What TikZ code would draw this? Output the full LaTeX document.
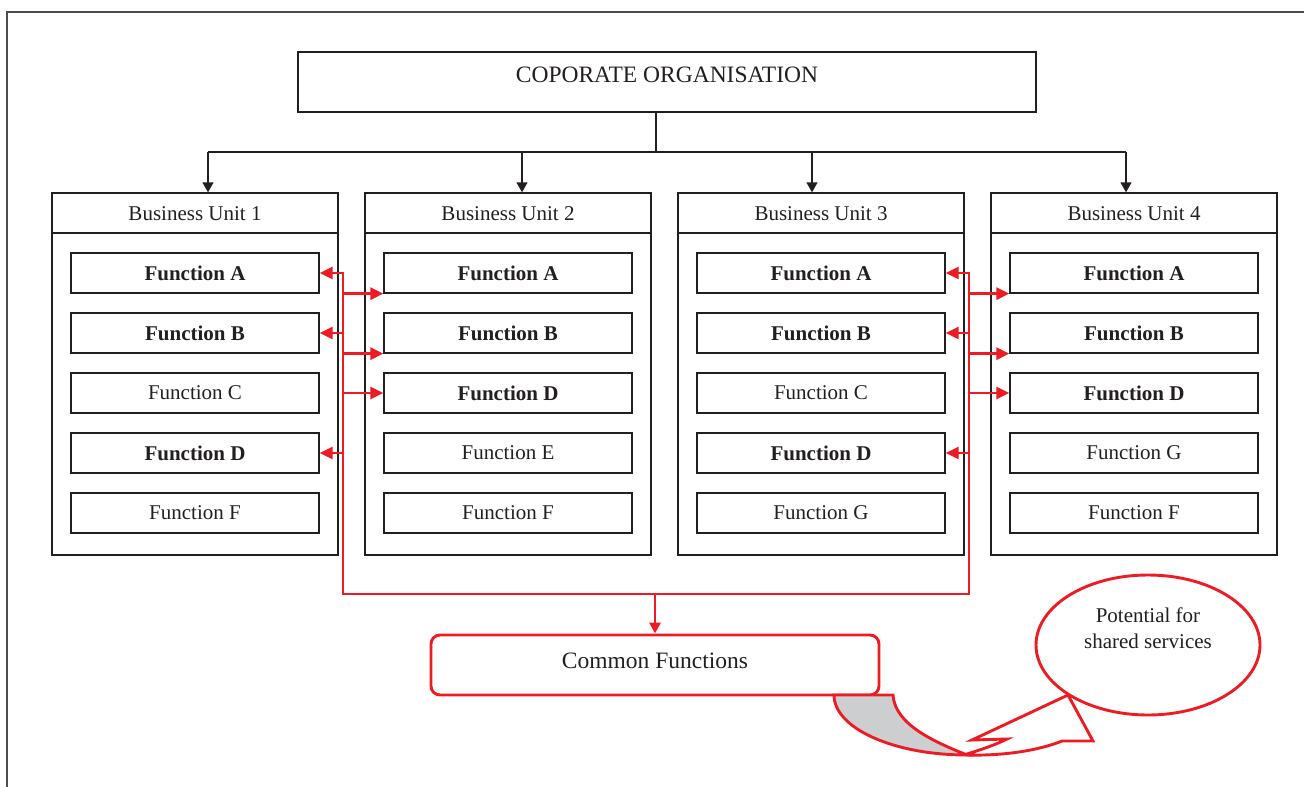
\documentclass[tikz,border=0pt]{standalone}
\usepackage{fontspec}
\setmainfont{Liberation Serif}
\usetikzlibrary{arrows.meta,shapes.geometric}
\definecolor{ink}{HTML}{231F20}
\definecolor{accent}{HTML}{ED1C24}
\definecolor{shade}{HTML}{CDCED0}
\definecolor{framec}{HTML}{4D4D4D}

\begin{document}
\begin{tikzpicture}[x=1pt,y=-1pt,
  txt/.style={text=ink, inner sep=0pt, font=\fontsize{21}{26}\selectfont},
  bigtxt/.style={text=ink, inner sep=0pt, font=\fontsize{23.5}{28}\selectfont},
  fn/.style={txt, draw=ink, line width=1.3pt, minimum width=248pt, minimum height=40pt},
  fnb/.style={fn, font=\fontsize{21}{26}\selectfont\bfseries},
  unit/.style={draw=ink, line width=1.3pt, minimum width=286pt, minimum height=362pt, inner sep=0pt},
  link/.style={draw=ink, line width=1.3pt, -{Triangle[length=10pt,width=11pt]}},
  redline/.style={draw=accent, line width=2.9pt},
  redlink/.style={redline, -{Triangle[length=13pt,width=12pt]}},
  callout/.style={draw=accent, line width=2.9pt, line join=miter}
]
\useasboundingbox (0,0) rectangle (1304,787);

% page frame
\draw[framec, line width=2pt] (7,787) -- (7,12) -- (1304,12);

% head office
\node[bigtxt, draw=ink, line width=1.3pt, minimum width=738pt, minimum height=60pt,
      text height=14pt, text depth=14pt] (corp) at (667,82) {COPORATE ORGANISATION};

% business units
\foreach \u/\x in {1/195, 2/508, 3/821, 4/1134}{
  \node[unit] (bu\u) at (\x,374) {};
  \draw[draw=ink, line width=1.3pt] (bu\u.west |- 0,233) -- (bu\u.east |- 0,233);
  \node[txt] (bu\u h) at (\x,214) {Business Unit \u};
}

% functions of unit 1
\node[fnb] (f1a) at (195,273) {Function A};
\node[fnb] (f1b) at (195,333) {Function B};
\node[fn]  (f1c) at (195,393) {Function C};
\node[fnb] (f1d) at (195,453) {Function D};
\node[fn]  (f1f) at (195,513) {Function F};
% functions of unit 2
\node[fnb] (f2a) at (508,273) {Function A};
\node[fnb] (f2b) at (508,333) {Function B};
\node[fnb] (f2d) at (508,393) {Function D};
\node[fn]  (f2e) at (508,453) {Function E};
\node[fn]  (f2f) at (508,513) {Function F};
% functions of unit 3
\node[fnb] (f3a) at (821,273) {Function A};
\node[fnb] (f3b) at (821,333) {Function B};
\node[fn]  (f3c) at (821,393) {Function C};
\node[fnb] (f3d) at (821,453) {Function D};
\node[fn]  (f3g) at (821,513) {Function G};
% functions of unit 4
\node[fnb] (f4a) at (1134,273) {Function A};
\node[fnb] (f4b) at (1134,333) {Function B};
\node[fnb] (f4d) at (1134,393) {Function D};
\node[fn]  (f4g) at (1134,453) {Function G};
\node[fn]  (f4f) at (1134,513) {Function F};

% hierarchy connectors
\coordinate (hub) at (656,152);
\coordinate (d1) at (208,152);
\coordinate (d2) at (522,152);
\coordinate (d3) at (812,152);
\coordinate (d4) at (1126,152);
\draw[draw=ink, line width=1.3pt] (corp.south -| hub) -- (hub);
\draw[draw=ink, line width=1.3pt] (d1) -- (d4);
\foreach \u in {1,2,3,4}{
  \draw[link] (d\u) -- (d\u |- bu\u.north);
}

% common functions
\node[bigtxt, draw=accent, line width=2.9pt, rounded corners=9pt,
      minimum width=448pt, minimum height=60pt,
      text height=14pt, text depth=8pt] (cf) at (655,665) {Common Functions};

% red trunks
\coordinate (tL) at (343,594);
\coordinate (tR) at (969,594);
\draw[redline, {Triangle[length=13pt,width=12pt]}-{Triangle[length=13pt,width=12pt]}]
  (f1a.east) -- (tL |- f1a.east) -- (tL) -- (tR) -- (tR |- f3a.east) -- (f3a.east);
\draw[redlink] (tL |- f1b.east) -- (f1b.east);
\draw[redlink] (tL |- f1d.east) -- (f1d.east);
\draw[redlink] (tL |- f2a.south west) -- (f2a.south west);
\draw[redlink] (tL |- f2b.south west) -- (f2b.south west);
\draw[redlink] (tL |- f2d.west) -- (f2d.west);
\draw[redlink] (tR |- f3b.east) -- (f3b.east);
\draw[redlink] (tR |- f3d.east) -- (f3d.east);
\draw[redlink] (tR |- f4a.south west) -- (f4a.south west);
\draw[redlink] (tR |- f4b.south west) -- (f4b.south west);
\draw[redlink] (tR |- f4d.west) -- (f4d.west);
\draw[redline, -{Triangle[length=11pt,width=11pt]}] (cf.north |- tL) -- (cf.north);

% curved arrow below the common functions box
\filldraw[callout, fill=shade]
  (834,695) .. controls (834,728) and (893,755) .. (967,755)
  .. controls (935,742) and (895,725) .. (893,695) -- cycle;
\filldraw[callout, fill=white]
  (967,755) .. controls (1005,756) and (1040,750) .. (1062,741)
  -- (1093,741) -- (1068,695) -- (972,740) -- (1007,739)
  .. controls (995,745) and (980,750) .. (967,754) -- cycle;

% shared services bubble
\node[txt, ellipse, draw=accent, line width=2.9pt, align=center,
      minimum width=224pt, minimum height=140pt, text depth=33pt] (pot) at (1148,645)
  {Potential for\\shared services};
\end{tikzpicture}
\end{document}
